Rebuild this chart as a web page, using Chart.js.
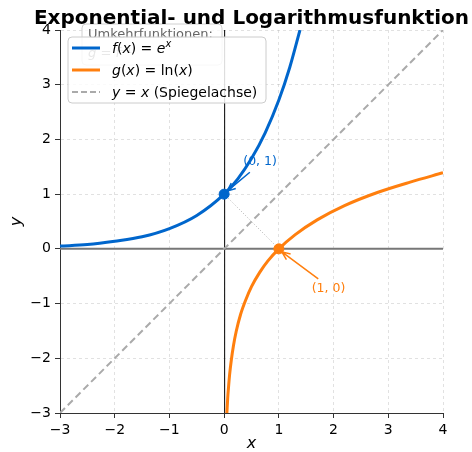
<!DOCTYPE html>
<html lang="de">
<head>
  <meta charset="UTF-8">
  <title>Exponential- und Logarithmusfunktion</title>
  <script src="https://cdn.jsdelivr.net/npm/chart.js"></script>
  <style>
    html, body { margin: 0; padding: 0; background: #fff; }
    #wrap { width: 472px; height: 452px; }
  </style>
</head>
<body>
  <div id="wrap"><canvas id="chart"></canvas></div>
  <script>
    // values
    const expX = [-3, -2.5, -2, -1.5, -1, -0.5, 0, 0.25, 0.5, 0.75, 1, 1.2, 1.386];
    const expY = [0.05, 0.08, 0.14, 0.22, 0.37, 0.61, 1, 1.28, 1.65, 2.12, 2.72, 3.32, 4];
    const lnX = [0.05, 0.065, 0.08, 0.1, 0.13, 0.17, 0.22, 0.3, 0.4, 0.5, 0.65, 0.8, 1, 1.3, 1.7, 2.2, 2.8, 3.4, 4];
    const lnY = [-3, -2.73, -2.53, -2.3, -2.04, -1.77, -1.51, -1.2, -0.92, -0.69, -0.43, -0.22, 0, 0.26, 0.53, 0.79, 1.03, 1.22, 1.39];
    const mirrorX = [-3, 4];
    const mirrorY = [-3, 4];
    const specialX = [0, 1];
    const specialY = [1, 0];
    const specialLabels = ['(0, 1)', '(1, 0)'];
    const seriesLabels = ['f(x) = e^x', 'g(x) = ln(x)', 'y = x (Spiegelachse)'];
    const titleText = 'Exponential- und Logarithmusfunktion';
    const boxLines = ['Umkehrfunktionen:', 'g = f⁻¹'];
    const tickMin = -3;
    const tickMax = 4;

    const BLUE = '#0066cc';
    const ORANGE = '#ff7f0e';
    const FONT = '"DejaVu Sans", sans-serif';

    const pts = (xs, ys) => xs.map((x, i) => ({ x: x, y: ys[i] }));
    const minus = v => String(v).replace('-', '\u2212');

    // legend text as runs: [text, italic, superscript]
    const legendRuns = [
      [['f', 1], ['(', 0], ['x', 1], [') = ', 0], ['e', 1], ['x', 1, 1]],
      [['g', 1], ['(', 0], ['x', 1], [') = ln(', 0], ['x', 1], [')', 0]],
      [['y', 1], [' = ', 0], ['x', 1], [' (Spiegelachse)', 0]]
    ];

    function drawRuns(ctx, runs, x, y, size, color) {
      ctx.fillStyle = color;
      ctx.textBaseline = 'alphabetic';
      ctx.textAlign = 'left';
      for (const r of runs) {
        const sz = r[2] ? size * 0.7 : size;
        ctx.font = (r[1] ? 'italic ' : '') + sz + 'px ' + FONT;
        ctx.fillText(r[0], x, r[2] ? y - size * 0.42 : y);
        x += ctx.measureText(r[0]).width;
      }
    }

    function arrow(ctx, x1, y1, x2, y2, color) {
      const a = Math.atan2(y2 - y1, x2 - x1);
      const h = 9;
      ctx.strokeStyle = color;
      ctx.lineWidth = 1.5;
      ctx.beginPath();
      ctx.moveTo(x1, y1);
      ctx.lineTo(x2, y2);
      ctx.moveTo(x2 - h * Math.cos(a - 0.4), y2 - h * Math.sin(a - 0.4));
      ctx.lineTo(x2, y2);
      ctx.lineTo(x2 - h * Math.cos(a + 0.4), y2 - h * Math.sin(a + 0.4));
      ctx.stroke();
    }

    function roundBox(ctx, x, y, w, h, r) {
      ctx.beginPath();
      ctx.moveTo(x + r, y);
      ctx.arcTo(x + w, y, x + w, y + h, r);
      ctx.arcTo(x + w, y + h, x, y + h, r);
      ctx.arcTo(x, y + h, x, y, r);
      ctx.arcTo(x, y, x + w, y, r);
      ctx.closePath();
    }

    const overlay = {
      id: 'overlay',
      beforeDatasetsDraw(chart) {
        const { ctx, chartArea: a, scales: { x, y } } = chart;
        ctx.save();
        const y0 = y.getPixelForValue(0);
        ctx.strokeStyle = '#777777';
        ctx.lineWidth = 2;
        ctx.beginPath();
        ctx.moveTo(a.left, y0);
        ctx.lineTo(a.right, y0);
        ctx.stroke();
        const x0 = x.getPixelForValue(0);
        ctx.strokeStyle = '#000';
        ctx.lineWidth = 1;
        ctx.beginPath();
        ctx.moveTo(x0 + 0.5, a.top);
        ctx.lineTo(x0 + 0.5, a.bottom);
        ctx.stroke();
        ctx.restore();
      },
      afterDatasetsDraw(chart) {
        const { ctx, chartArea: a, scales: { x, y } } = chart;
        ctx.save();

        // annotations
        const p0x = x.getPixelForValue(specialX[0]), p0y = y.getPixelForValue(specialY[0]);
        const p1x = x.getPixelForValue(specialX[1]), p1y = y.getPixelForValue(specialY[1]);
        ctx.font = '12.5px ' + FONT;
        ctx.textAlign = 'left';
        ctx.textBaseline = 'middle';
        ctx.fillStyle = BLUE;
        ctx.fillText(specialLabels[0], x.getPixelForValue(0.35), y.getPixelForValue(1.6));
        arrow(ctx, x.getPixelForValue(0.47), y.getPixelForValue(1.4), p0x + 3, p0y - 3, BLUE);
        ctx.fillStyle = ORANGE;
        ctx.fillText(specialLabels[1], x.getPixelForValue(1.6), y.getPixelForValue(-0.72));
        arrow(ctx, x.getPixelForValue(1.72), y.getPixelForValue(-0.55), p1x + 3, p1y + 3, ORANGE);

        // text box behind legend
        roundBox(ctx, 82, 24, 140, 41, 4);
        ctx.fillStyle = 'rgba(255,255,255,0.8)';
        ctx.fill();
        ctx.strokeStyle = '#d0d0d0';
        ctx.lineWidth = 1;
        ctx.stroke();
        ctx.fillStyle = '#666';
        ctx.font = '13px ' + FONT;
        ctx.textBaseline = 'alphabetic';
        ctx.fillText(boxLines[0], 88, 38);
        drawRuns(ctx, [['g', 1], [' = ', 0], ['f', 1], ['⁻¹', 0]], 88, 57, 13, '#666');

        // legend
        roundBox(ctx, 68, 37, 198, 66, 4);
        ctx.fillStyle = 'rgba(255,255,255,0.85)';
        ctx.fill();
        ctx.strokeStyle = '#cccccc';
        ctx.lineWidth = 1;
        ctx.stroke();
        const colors = [BLUE, ORANGE, '#aaaaaa'];
        for (let i = 0; i < seriesLabels.length; i++) {
          const ly = 48 + i * 22;
          ctx.strokeStyle = colors[i];
          ctx.lineWidth = i === 2 ? 2 : 3;
          ctx.setLineDash(i === 2 ? [6, 3] : []);
          ctx.beginPath();
          ctx.moveTo(72, ly);
          ctx.lineTo(100, ly);
          ctx.stroke();
          ctx.setLineDash([]);
          drawRuns(ctx, legendRuns[i], 112, ly + 5, 14, '#000');
        }

        // title
        ctx.fillStyle = '#000';
        ctx.font = 'bold 20px ' + FONT;
        ctx.textAlign = 'center';
        ctx.textBaseline = 'alphabetic';
        ctx.fillText(titleText, (a.left + a.right) / 2, 24);
        ctx.restore();
      }
    };

    const axis = (label, fit, titlePad) => ({
      type: 'linear',
      min: tickMin,
      max: tickMax,
      ticks: {
        stepSize: 1,
        color: '#000',
        padding: 4,
        font: { family: FONT, size: 14 },
        callback: v => minus(v)
      },
      grid: {
        color: 'rgba(170,170,170,0.35)',
        tickColor: '#333',
        tickLength: 5,
        tickBorderDash: []
      },
      border: { display: true, color: '#333', width: 1, dash: [3, 3] },
      title: {
        display: true,
        text: label,
        color: '#000',
        padding: titlePad,
        font: { family: FONT, size: 16, style: 'italic', lineHeight: 1 }
      },
      afterFit: fit
    });

    new Chart(document.getElementById('chart'), {
      type: 'scatter',
      data: {
        datasets: [
          {
            label: seriesLabels[2],
            data: pts(mirrorX, mirrorY),
            showLine: true,
            borderColor: '#aaaaaa',
            borderWidth: 2,
            borderDash: [7, 4],
            pointRadius: 0,
            order: 5
          },
          {
            label: 'dotted',
            data: pts(specialX, specialY),
            showLine: true,
            borderColor: '#b0b0b0',
            borderWidth: 1,
            borderDash: [1, 2],
            pointRadius: 0,
            order: 4
          },
          {
            label: seriesLabels[0],
            data: pts(expX, expY),
            showLine: true,
            borderColor: BLUE,
            borderWidth: 3,
            cubicInterpolationMode: 'monotone',
            pointRadius: 0,
            order: 3
          },
          {
            label: seriesLabels[1],
            data: pts(lnX, lnY),
            showLine: true,
            borderColor: ORANGE,
            borderWidth: 3,
            cubicInterpolationMode: 'monotone',
            pointRadius: 0,
            order: 2
          },
          {
            label: 'points',
            data: pts(specialX, specialY),
            showLine: false,
            backgroundColor: [BLUE, ORANGE],
            borderColor: [BLUE, ORANGE],
            pointRadius: 5,
            order: 1
          }
        ]
      },
      options: {
        responsive: true,
        maintainAspectRatio: false,
        animation: false,
        layout: { padding: { top: 30, right: 29, left: 0, bottom: 0 } },
        plugins: {
          legend: { display: false },
          tooltip: { enabled: false }
        },
        scales: {
          x: axis('x', s => { s.height = 39; }, 0),
          y: axis('y', s => { s.width = 60; }, { top: 9, bottom: 0 })
        }
      },
      plugins: [overlay]
    });
  </script>
</body>
</html>
